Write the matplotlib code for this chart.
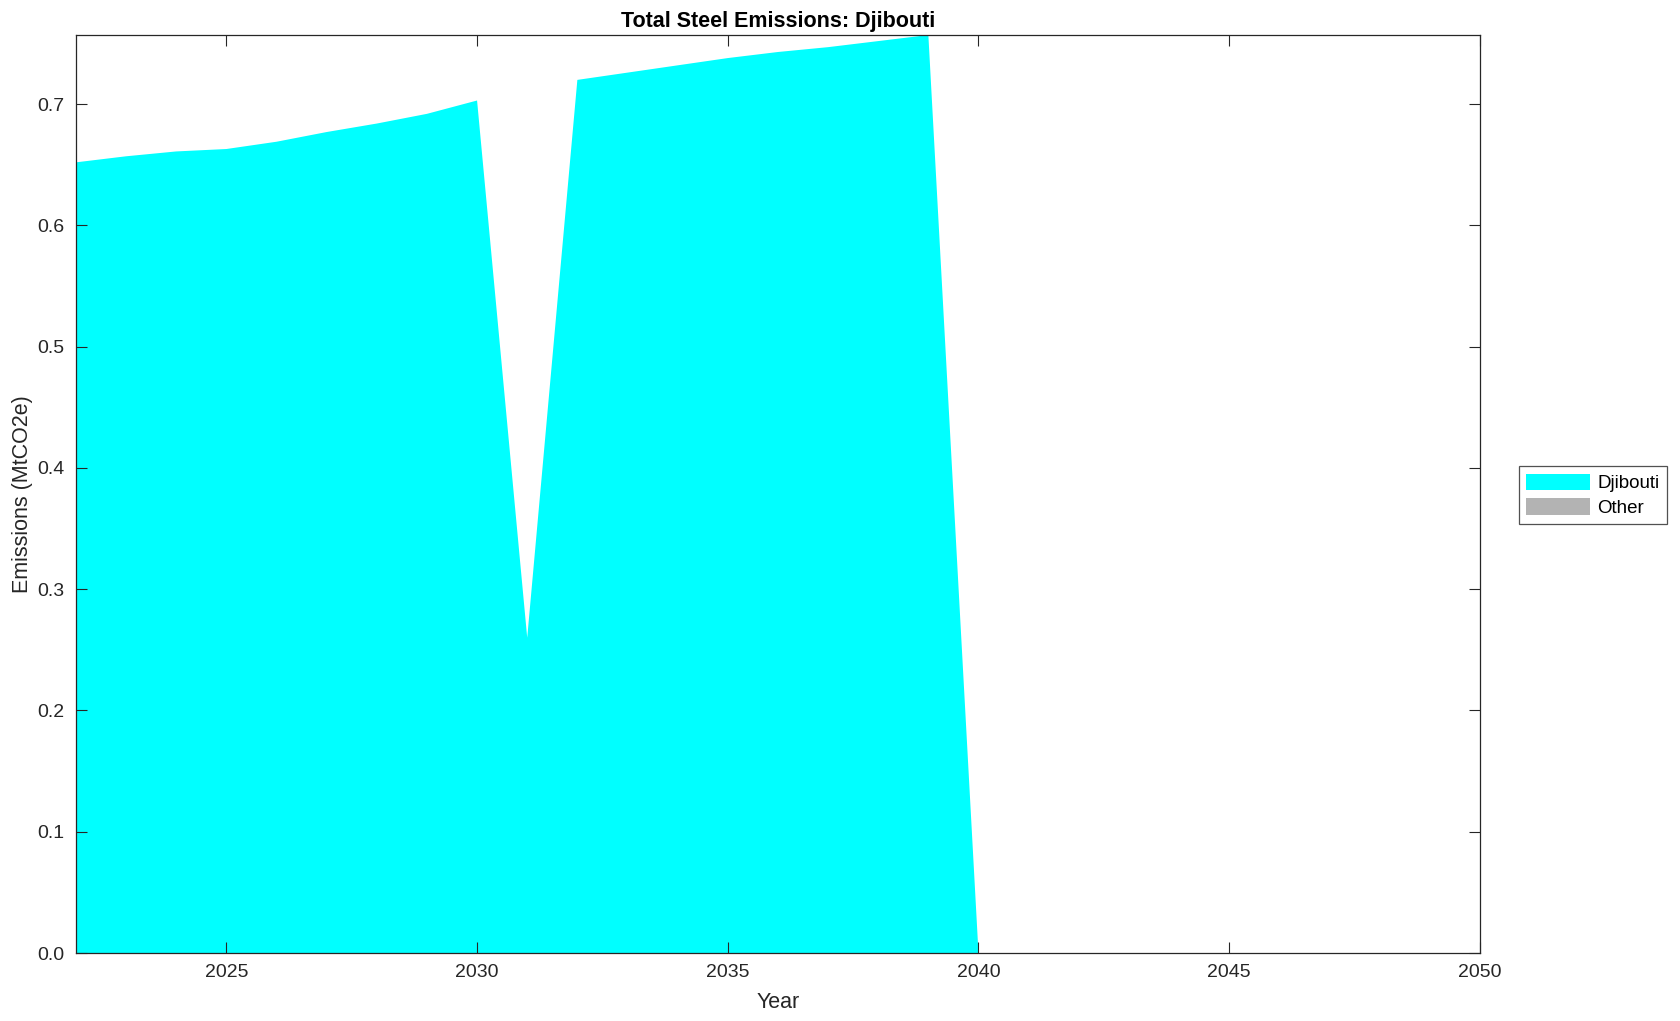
import matplotlib
matplotlib.use("Agg")
import matplotlib.pyplot as plt
import numpy as np
from matplotlib.ticker import FormatStrFormatter

plt.rcParams["font.family"] = ["Liberation Sans", "DejaVu Sans"]

# ── data ──
years = list(range(2022, 2051))
djibouti = [0.652, 0.657, 0.661, 0.663, 0.669, 0.677, 0.684, 0.692, 0.703,
            0.260, 0.720, 0.726, 0.732, 0.738, 0.743, 0.747, 0.752, 0.757,
            0.0, 0.0, 0.0, 0.0, 0.0, 0.0, 0.0, 0.0, 0.0, 0.0, 0.0]
other = [0.0] * len(years)
series_names = ["Djibouti", "Other"]
series_colors = ["#00ffff", "#b3b3b3"]

fig = plt.figure(figsize=(16.8, 10.21), dpi=100)
ax = fig.add_axes([0.0452, 0.0666, 0.8357, 0.8991])

ax.stackplot(years, djibouti, other, labels=series_names,
             colors=series_colors, linewidth=0)

ax.set_xlim(2022, 2050)
ax.set_ylim(0, max(djibouti))
ax.set_xticks(range(2025, 2051, 5))
ax.set_yticks(np.arange(0, 0.75, 0.1))
ax.yaxis.set_major_formatter(FormatStrFormatter("%.1f"))
ax.tick_params(direction="in", length=8, width=0.8, top=True, right=True,
               labelsize=14, colors="#262626", pad=8)
for s in ax.spines.values():
    s.set_linewidth(0.9)
    s.set_color("#262626")

ax.set_xlabel("Year", fontsize=15.5, color="#262626", labelpad=8)
ax.set_ylabel("Emissions (MtCO2e)", fontsize=15.5, color="#262626", labelpad=3)
ax.set_title("Total Steel Emissions: Djibouti", fontsize=15.5, fontweight="bold",
             pad=6)

leg = fig.legend(loc="center left", bbox_to_anchor=(0.904, 0.515),
                 borderaxespad=0, fontsize=13.5, frameon=True, fancybox=False,
                 edgecolor="#262626", handlelength=3.4, handleheight=1.0,
                 borderpad=0.4, labelspacing=0.3, handletextpad=0.4)
leg.get_frame().set_linewidth(0.9)

fig.savefig("out.png", dpi=100, facecolor="white")
